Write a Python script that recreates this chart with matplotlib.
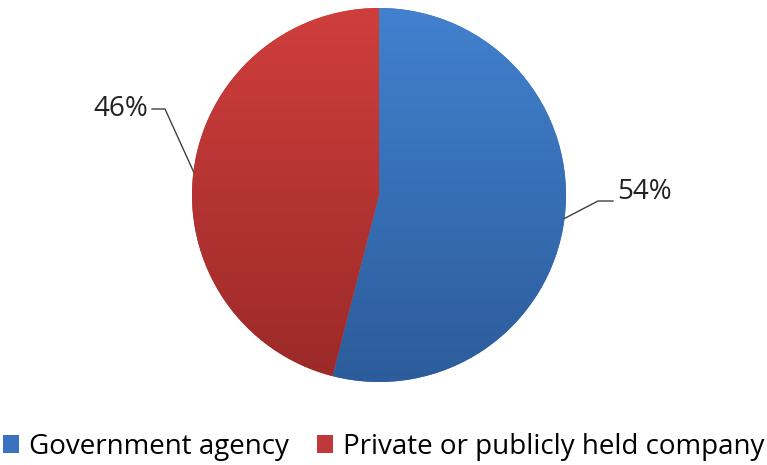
import matplotlib.pyplot as plt
import matplotlib.colors as mcolors
from matplotlib.patches import Patch
import numpy as np

labels = ['Government agency', 'Private or publicly held company']
values = [54, 46]
top_colors = ['#4281cf', '#cf3e3c']
bottom_colors = ['#2c5c9b', '#9b2a28']
legend_colors = ['#3a72bf', '#c0393a']

plt.rcParams['font.family'] = ['Open Sans', 'DejaVu Sans']

fig = plt.figure(figsize=(7.67, 4.65), dpi=100)
ax = fig.add_axes([0, 0, 1, 1])

cx, cy, r = 379, 270, 187
wedges, _ = ax.pie(values, startangle=90, counterclock=False, radius=r,
                   center=(cx, cy), colors=legend_colors, frame=True)
ax.set_xlim(0, 767)
ax.set_ylim(0, 465)
ax.set_aspect('equal')
ax.axis('off')

# vertical gradient on each slice
grad = np.linspace(0, 1, 256)[:, None]
for w, c1, c2 in zip(wedges, top_colors, bottom_colors):
    cmap = mcolors.LinearSegmentedColormap.from_list('g', [c1, c2])
    im = ax.imshow(grad, cmap=cmap, aspect='auto',
                   extent=(cx - r, cx + r, cy - r, cy + r), origin='upper', zorder=2)
    im.set_clip_path(w)

# labels with leader lines
label_pos = [(617, 273, 'left', 598, 264), (148, 356, 'right', 165, 356)]
for w, v, (tx, ty, ha, kx, ky) in zip(wedges, values, label_pos):
    ang = np.deg2rad((w.theta1 + w.theta2) / 2)
    ex, ey = cx + r * np.cos(ang), cy + r * np.sin(ang)
    hx = tx - 4 if ha == 'left' else tx + 4
    ax.plot([ex, kx, hx], [ey, ky, ky], color='#404040', lw=1, zorder=3)
    ax.text(tx, ty, f'{v}%', ha=ha, va='center', fontsize=20, color='#222222')

handles = [Patch(facecolor=c, edgecolor='none') for c in legend_colors]
fig.legend(handles, labels, loc='lower center', bbox_to_anchor=(0.5, -0.045),
           ncol=2, frameon=False, fontsize=20, handlelength=0.6, handleheight=0.6,
           handletextpad=0.35, columnspacing=1.0)

fig.savefig('out.png', dpi=100)
